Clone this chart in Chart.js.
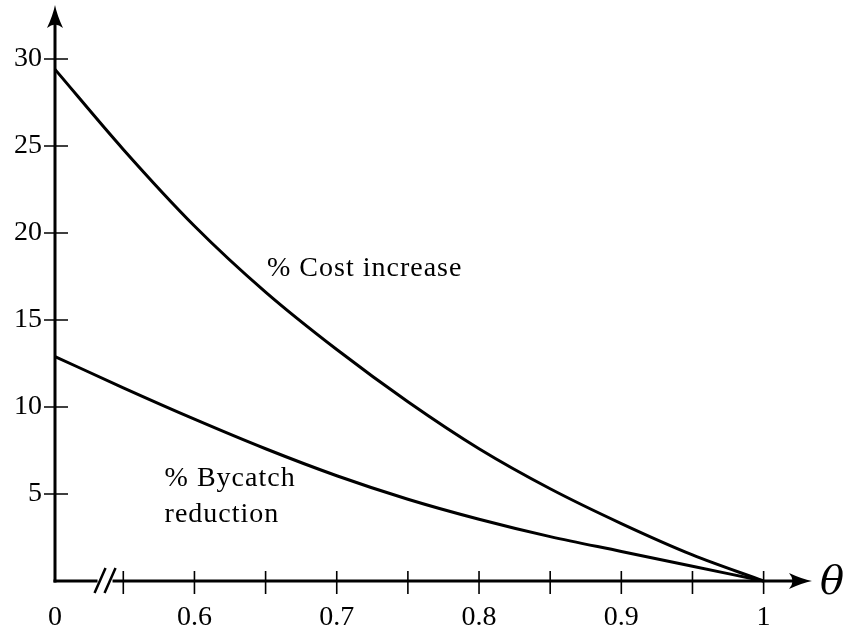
<!DOCTYPE html>
<html>
<head>
<meta charset="utf-8">
<script src="https://cdn.jsdelivr.net/npm/chart.js@4.4.1/dist/chart.umd.min.js"></script>
<style>
  html, body { margin: 0; padding: 0; background: #fff; }
  #wrap { width: 860px; height: 632px; }
</style>
</head>
<body>
<div id="wrap"><canvas id="chart" width="860" height="632"></canvas></div>
<script>
// values (theta, percent)
const thetaCost    = [0.502, 0.55, 0.6, 0.65, 0.7, 0.75, 0.8, 0.85, 0.9, 0.95, 1.0];
const costIncrease = [29.4, 24.8, 20.4, 16.6, 13.3, 10.3, 7.6, 5.3, 3.3, 1.5, 0];

const thetaBycatch     = [0.502, 0.55, 0.6, 0.65, 0.7, 0.75, 0.8, 0.85, 0.9, 0.95, 1.0];
const bycatchReduction = [12.9, 11.1, 9.3, 7.6, 6.05, 4.7, 3.55, 2.55, 1.7, 0.85, 0];

// axis: the origin is drawn at theta ~0.502 (broken axis), labelled "0"
const xTickValues = [0.502, 0.55, 0.6, 0.65, 0.7, 0.75, 0.8, 0.85, 0.9, 0.95, 1.0];
const xTickLabels = ['0', '', '0.6', '', '0.7', '', '0.8', '', '0.9', '', '1'];
const yTickValues = [5, 10, 15, 20, 25, 30];

const curveLabels = [
  { text: '% Cost increase', x: 0.651, y: 17.96 },
  { text: '% Bycatch',       x: 0.579, y: 5.91 },
  { text: 'reduction',       x: 0.579, y: 3.80 },
];

const SERIF = "'Liberation Serif', 'DejaVu Serif', serif";
const INK = '#000';

function toPoints(xs, ys) {
  return xs.map((x, i) => ({ x: x, y: ys[i] }));
}

// ── axes, arrows, tick marks, break marks, curve labels ──────
const axesPlugin = {
  id: 'axesPlugin',
  afterDatasetsDraw(chart) {
    const { ctx, chartArea: a, scales: { x, y } } = chart;
    const x0 = a.left, y0 = a.bottom;
    ctx.save();
    ctx.strokeStyle = INK;
    ctx.fillStyle = INK;

    // y axis
    ctx.lineWidth = 3;
    ctx.beginPath();
    ctx.moveTo(x0, y0 + 1.5);
    ctx.lineTo(x0, a.top + 12);
    ctx.stroke();

    // x axis, broken near the origin
    const brk = x.getPixelForValue(0.534);
    ctx.beginPath();
    ctx.moveTo(x0 - 1.5, y0);
    ctx.lineTo(brk - 3, y0);
    ctx.moveTo(brk + 12, y0);
    ctx.lineTo(a.right - 12, y0);
    ctx.stroke();

    // break slashes
    ctx.lineWidth = 2.5;
    ctx.beginPath();
    ctx.moveTo(brk - 6, y0 + 12);
    ctx.lineTo(brk + 5, y0 - 13);
    ctx.moveTo(brk + 4, y0 + 12);
    ctx.lineTo(brk + 15, y0 - 13);
    ctx.stroke();

    // arrowheads
    function arrow(tx, ty, dir) {
      ctx.save();
      ctx.translate(tx, ty);
      ctx.rotate(dir);
      ctx.beginPath();
      ctx.moveTo(0, 0);
      ctx.quadraticCurveTo(-10, 2, -23, 8);
      ctx.quadraticCurveTo(-16, 0, -23, -8);
      ctx.quadraticCurveTo(-10, -2, 0, 0);
      ctx.closePath();
      ctx.fill();
      ctx.restore();
    }
    arrow(x0, a.top, -Math.PI / 2);
    arrow(a.right, y0, 0);

    // tick marks crossing the axes
    ctx.lineWidth = 1.6;
    ctx.beginPath();
    xTickValues.slice(1).forEach(v => {
      const px = x.getPixelForValue(v);
      ctx.moveTo(px, y0 - 10);
      ctx.lineTo(px, y0 + 13);
    });
    yTickValues.forEach(v => {
      const py = y.getPixelForValue(v);
      ctx.moveTo(x0 - 11, py);
      ctx.lineTo(x0 + 13, py);
    });
    ctx.stroke();

    // theta
    ctx.font = "italic 40px 'DejaVu Serif', serif";
    ctx.textBaseline = 'middle';
    ctx.textAlign = 'left';
    ctx.fillText('\u03B8', a.right + 8, y0 + 3);

    // curve labels
    ctx.font = "28px " + SERIF;
    ctx.letterSpacing = '1px';
    curveLabels.forEach(l => {
      ctx.fillText(l.text, x.getPixelForValue(l.x), y.getPixelForValue(l.y));
    });
    ctx.restore();
  },
};

new Chart(document.getElementById('chart'), {
  type: 'line',
  data: {
    datasets: [
      {
        label: '% Cost increase',
        data: toPoints(thetaCost, costIncrease),
        borderColor: INK,
        borderWidth: 3,
        pointRadius: 0,
        cubicInterpolationMode: 'monotone',
        clip: 6,
      },
      {
        label: '% Bycatch reduction',
        data: toPoints(thetaBycatch, bycatchReduction),
        borderColor: INK,
        borderWidth: 3,
        pointRadius: 0,
        cubicInterpolationMode: 'monotone',
        clip: 6,
      },
    ],
  },
  options: {
    responsive: false,
    animation: false,
    devicePixelRatio: 1,
    layout: { padding: { left: 0, top: 5, right: 48, bottom: 0 } },
    plugins: {
      legend:  { display: false },
      tooltip: { enabled: false },
    },
    scales: {
      x: {
        type: 'linear',
        min: 0.502,
        max: 1.034,
        afterBuildTicks: s => { s.ticks = xTickValues.map(v => ({ value: v })); },
        afterFit: s => { s.height = 51; s.paddingLeft = 0; s.paddingRight = 0; },
        grid:   { display: false, drawTicks: false },
        border: { display: false },
        ticks: {
          autoSkip: false,
          maxRotation: 0,
          padding: 20,
          color: INK,
          font: { family: SERIF, size: 28 },
          callback: (v, i) => xTickLabels[i],
        },
      },
      y: {
        type: 'linear',
        min: 0,
        max: 33.1,
        afterBuildTicks: s => { s.ticks = yTickValues.map(v => ({ value: v })); },
        afterFit: s => { s.width = 55; s.paddingTop = 0; s.paddingBottom = 0; },
        grid:   { display: false, drawTicks: false },
        border: { display: false },
        ticks: {
          padding: 13,
          color: INK,
          font: { family: SERIF, size: 28 },
        },
      },
    },
  },
  plugins: [axesPlugin],
});
</script>
</body>
</html>
